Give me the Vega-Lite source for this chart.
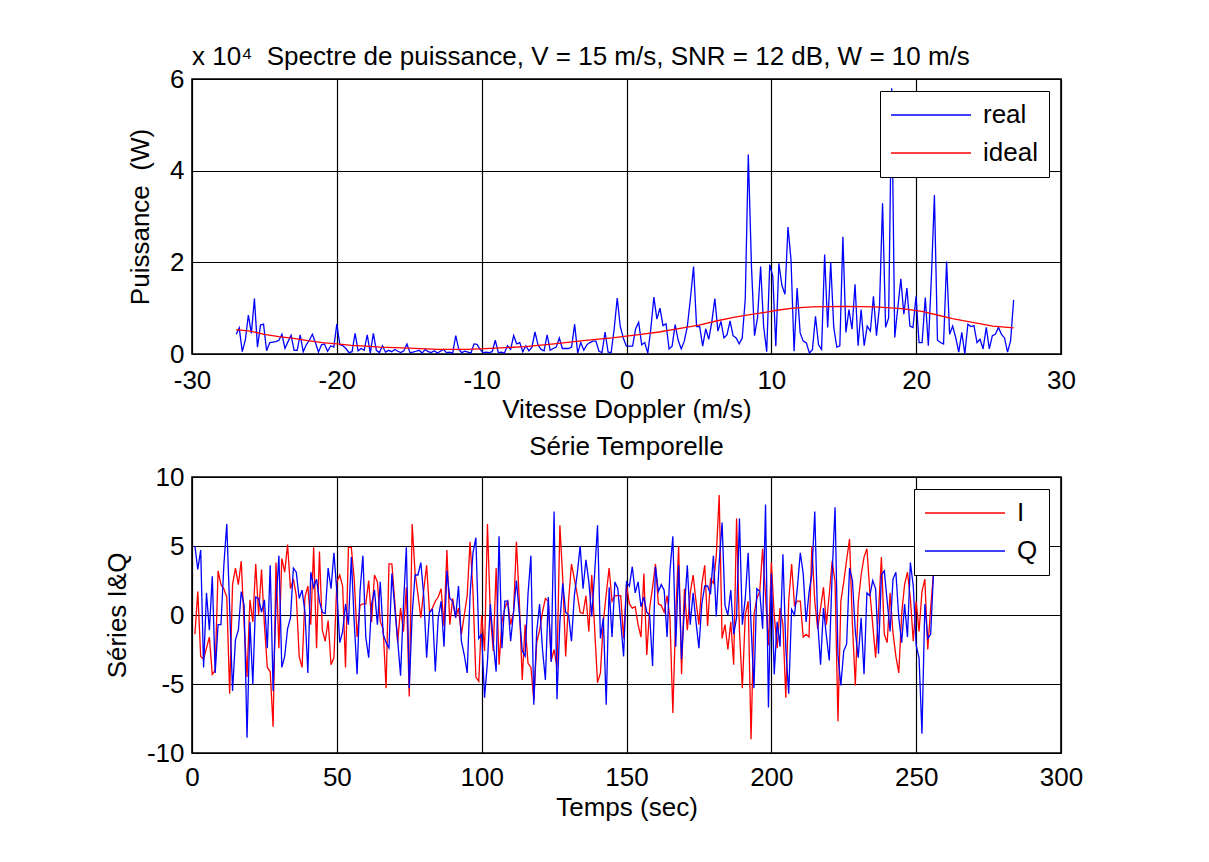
{
"$schema": "https://vega.github.io/schema/vega-lite/v6.json",
"autosize": {"type": "pad"},
"padding": {"left": 103, "top": 43, "right": 10, "bottom": 10},
"background": "white",
"bounds": "flush",
"spacing": 123,
"resolve": {"scale": {"color": "independent"}, "legend": {"color": "independent"}},
"config": {
  "font": "Liberation Sans",
  "view": {"stroke": "#000", "strokeWidth": 1.6},
  "axis": {"labelFont": "Liberation Sans", "labelFontSize": 26, "labelColor": "#000", "titleFont": "Liberation Sans", "titleFontSize": 26, "titleFontWeight": "normal", "titleColor": "#000", "ticks": false, "domain": false, "grid": true, "gridColor": "#000", "gridWidth": 1.2, "gridOpacity": 1, "labelFlush": false},
  "axisX": {"labelPadding": 11, "titlePadding": 4, "labelAngle": 0},
  "axisY": {"labelPadding": 8, "titlePadding": 16},
  "title": {"font": "Liberation Sans", "fontSize": 26, "fontWeight": "normal", "color": "#000"},
  "legend": {"orient": "top-right", "offset": 12, "strokeColor": "#000", "fillColor": "#fff", "padding": 11, "symbolType": "M-4,0H4", "symbolSize": 400, "symbolStrokeWidth": 1.3, "symbolOffset": 27, "labelFont": "Liberation Sans", "labelFontSize": 26, "labelColor": "#000", "labelOffset": 39, "rowPadding": 12}
},
"datasets": {
"reel": [
{"v":-26.95,"p":4300},{"v":-26.74,"p":5700},{"v":-26.53,"p":500},{"v":-26.32,"p":3000},{"v":-26.11,"p":8500},{"v":-25.90,"p":4500},{"v":-25.69,"p":12100},{"v":-25.48,"p":1500},{"v":-25.27,"p":6300},{"v":-25.06,"p":6500},
{"v":-24.85,"p":700},{"v":-24.63,"p":2500},{"v":-24.42,"p":2600},{"v":-24.21,"p":2700},{"v":-24.00,"p":3000},{"v":-23.79,"p":4300},{"v":-23.58,"p":1200},{"v":-23.37,"p":2700},{"v":-23.16,"p":4100},{"v":-22.95,"p":800},
{"v":-22.74,"p":800},{"v":-22.53,"p":4200},{"v":-22.32,"p":500},{"v":-22.11,"p":2000},{"v":-21.90,"p":3000},{"v":-21.69,"p":4300},{"v":-21.48,"p":2500},{"v":-21.27,"p":400},{"v":-21.06,"p":2000},{"v":-20.85,"p":2200},
{"v":-20.64,"p":600},{"v":-20.42,"p":1800},{"v":-20.21,"p":1500},{"v":-20.00,"p":6500},{"v":-19.79,"p":2000},{"v":-19.58,"p":1800},{"v":-19.37,"p":1200},{"v":-19.16,"p":300},{"v":-18.95,"p":500},{"v":-18.74,"p":4500},
{"v":-18.53,"p":700},{"v":-18.32,"p":1200},{"v":-18.11,"p":800},{"v":-17.90,"p":4200},{"v":-17.69,"p":200},{"v":-17.48,"p":4500},{"v":-17.27,"p":800},{"v":-17.06,"p":300},{"v":-16.85,"p":1800},{"v":-16.64,"p":400},
{"v":-16.43,"p":800},{"v":-16.21,"p":500},{"v":-16.00,"p":1000},{"v":-15.79,"p":600},{"v":-15.58,"p":300},{"v":-15.37,"p":700},{"v":-15.16,"p":2200},{"v":-14.95,"p":300},{"v":-14.74,"p":400},{"v":-14.53,"p":600},
{"v":-14.32,"p":800},{"v":-14.11,"p":200},{"v":-13.90,"p":1000},{"v":-13.69,"p":500},{"v":-13.48,"p":300},{"v":-13.27,"p":700},{"v":-13.06,"p":200},{"v":-12.85,"p":600},{"v":-12.64,"p":1000},{"v":-12.43,"p":300},
{"v":-12.22,"p":400},{"v":-12.00,"p":200},{"v":-11.79,"p":4000},{"v":-11.58,"p":1000},{"v":-11.37,"p":300},{"v":-11.16,"p":600},{"v":-10.95,"p":400},{"v":-10.74,"p":200},{"v":-10.53,"p":2200},{"v":-10.32,"p":2100},
{"v":-10.11,"p":1000},{"v":-9.90,"p":300},{"v":-9.69,"p":400},{"v":-9.48,"p":300},{"v":-9.27,"p":500},{"v":-9.06,"p":3000},{"v":-8.85,"p":300},{"v":-8.64,"p":400},{"v":-8.43,"p":200},{"v":-8.22,"p":1800},
{"v":-8.00,"p":1000},{"v":-7.79,"p":4000},{"v":-7.58,"p":2200},{"v":-7.37,"p":2500},{"v":-7.16,"p":500},{"v":-6.95,"p":1800},{"v":-6.74,"p":700},{"v":-6.53,"p":1500},{"v":-6.32,"p":4800},{"v":-6.11,"p":2000},
{"v":-5.90,"p":1000},{"v":-5.69,"p":700},{"v":-5.48,"p":4200},{"v":-5.27,"p":800},{"v":-5.06,"p":1200},{"v":-4.85,"p":1500},{"v":-4.64,"p":3500},{"v":-4.43,"p":1200},{"v":-4.22,"p":1200},{"v":-4.01,"p":1200},
{"v":-3.79,"p":1500},{"v":-3.58,"p":6500},{"v":-3.37,"p":200},{"v":-3.16,"p":2500},{"v":-2.95,"p":800},{"v":-2.74,"p":2000},{"v":-2.53,"p":2500},{"v":-2.32,"p":2800},{"v":-2.11,"p":2800},{"v":-1.90,"p":600},
{"v":-1.69,"p":300},{"v":-1.48,"p":4800},{"v":-1.27,"p":400},{"v":-1.06,"p":300},{"v":-0.85,"p":5500},{"v":-0.64,"p":12200},{"v":-0.43,"p":6000},{"v":-0.22,"p":3500},{"v":-0.01,"p":1700},{"v":0.20,"p":1700},
{"v":0.42,"p":1700},{"v":0.63,"p":5500},{"v":0.84,"p":6900},{"v":1.05,"p":2000},{"v":1.26,"p":2500},{"v":1.47,"p":200},{"v":1.68,"p":5500},{"v":1.89,"p":12400},{"v":2.10,"p":7600},{"v":2.31,"p":10000},
{"v":2.52,"p":6200},{"v":2.73,"p":6600},{"v":2.94,"p":1100},{"v":3.15,"p":1700},{"v":3.36,"p":6400},{"v":3.57,"p":3000},{"v":3.78,"p":1100},{"v":3.99,"p":2800},{"v":4.20,"p":6000},{"v":4.41,"p":12000},
{"v":4.63,"p":19100},{"v":4.84,"p":6000},{"v":5.05,"p":6000},{"v":5.26,"p":1700},{"v":5.47,"p":5500},{"v":5.68,"p":3200},{"v":5.89,"p":7000},{"v":6.10,"p":12100},{"v":6.31,"p":5000},{"v":6.52,"p":7100},
{"v":6.73,"p":3500},{"v":6.94,"p":4200},{"v":7.15,"p":7200},{"v":7.36,"p":4000},{"v":7.57,"p":3500},{"v":7.78,"p":2200},{"v":7.99,"p":3500},{"v":8.20,"p":12000},{"v":8.41,"p":43500},{"v":8.63,"p":19000},
{"v":8.84,"p":4000},{"v":9.05,"p":8000},{"v":9.26,"p":19100},{"v":9.47,"p":6000},{"v":9.68,"p":500},{"v":9.89,"p":19500},{"v":10.10,"p":17000},{"v":10.31,"p":1700},{"v":10.52,"p":19800},{"v":10.73,"p":15000},
{"v":10.94,"p":13000},{"v":11.15,"p":27700},{"v":11.36,"p":20500},{"v":11.57,"p":600},{"v":11.78,"p":14400},{"v":11.99,"p":4600},{"v":12.20,"p":2800},{"v":12.42,"p":2400},{"v":12.63,"p":200},{"v":12.84,"p":1000},
{"v":13.05,"p":8200},{"v":13.26,"p":2000},{"v":13.47,"p":1000},{"v":13.68,"p":21700},{"v":13.89,"p":5800},{"v":14.10,"p":20000},{"v":14.31,"p":5800},{"v":14.52,"p":1500},{"v":14.73,"p":1800},{"v":14.94,"p":25600},
{"v":15.15,"p":4700},{"v":15.36,"p":9700},{"v":15.57,"p":5400},{"v":15.78,"p":15200},{"v":15.99,"p":1800},{"v":16.20,"p":9700},{"v":16.41,"p":1800},{"v":16.62,"p":6100},{"v":16.84,"p":5000},{"v":17.05,"p":12600},
{"v":17.26,"p":4000},{"v":17.47,"p":10500},{"v":17.68,"p":32900},{"v":17.89,"p":5800},{"v":18.10,"p":7900},{"v":18.31,"p":58000},{"v":18.52,"p":3600},{"v":18.73,"p":10000},{"v":18.94,"p":16400},{"v":19.15,"p":8700},
{"v":19.36,"p":14400},{"v":19.57,"p":6100},{"v":19.78,"p":5800},{"v":19.99,"p":12600},{"v":20.20,"p":2500},{"v":20.41,"p":2500},{"v":20.63,"p":12300},{"v":20.84,"p":1800},{"v":21.05,"p":16600},{"v":21.26,"p":34700},
{"v":21.47,"p":3000},{"v":21.68,"p":2500},{"v":21.89,"p":2200},{"v":22.10,"p":20200},{"v":22.31,"p":4300},{"v":22.52,"p":6100},{"v":22.73,"p":3600},{"v":22.94,"p":400},{"v":23.15,"p":4700},{"v":23.36,"p":0},
{"v":23.57,"p":6500},{"v":23.78,"p":6000},{"v":23.99,"p":6200},{"v":24.20,"p":2500},{"v":24.41,"p":3200},{"v":24.62,"p":1100},{"v":24.84,"p":5800},{"v":25.05,"p":1100},{"v":25.26,"p":4000},{"v":25.47,"p":4300},
{"v":25.68,"p":5800},{"v":25.89,"p":4300},{"v":26.10,"p":3500},{"v":26.31,"p":400},{"v":26.52,"p":2900},{"v":26.73,"p":11800}
],
"ideal": [
{"v":-26.95,"p":5300},{"v":-26.0,"p":5000},{"v":-25.0,"p":4300},{"v":-24.0,"p":3800},{"v":-23.0,"p":3400},{"v":-22.0,"p":2900},{"v":-21.0,"p":2500},{"v":-20.0,"p":2200},{"v":-19.0,"p":1900},{"v":-18.0,"p":1700},
{"v":-17.0,"p":1500},{"v":-15.0,"p":1300},{"v":-13.0,"p":1000},{"v":-11.0,"p":1000},{"v":-9.0,"p":1300},{"v":-7.0,"p":1600},{"v":-5.0,"p":2200},{"v":-3.0,"p":2900},{"v":-1.0,"p":3500},{"v":0.0,"p":3900},
{"v":1.0,"p":4300},{"v":2.25,"p":4800},{"v":3.5,"p":5500},{"v":5.0,"p":6300},{"v":6.2,"p":7200},{"v":7.4,"p":8000},{"v":8.3,"p":8500},{"v":9.2,"p":8900},{"v":10.5,"p":9600},{"v":11.5,"p":10000},
{"v":12.8,"p":10300},{"v":15.0,"p":10400},{"v":17.2,"p":10300},{"v":19.0,"p":9900},{"v":20.4,"p":9300},{"v":21.6,"p":8400},{"v":22.5,"p":7700},{"v":23.9,"p":6900},{"v":25.3,"p":6100},{"v":26.73,"p":5700}
],
"serie": [
{"t":1,"I":-1.4,"Q":5.0},{"t":2,"I":1.7,"Q":3.3},{"t":3,"I":-3.0,"Q":4.7},{"t":4,"I":-3.2,"Q":-3.8},{"t":5,"I":-2.4,"Q":1.6},{"t":6,"I":-1.6,"Q":-1.1},{"t":7,"I":-4.3,"Q":2.8},{"t":8,"I":-4.0,"Q":-4.2},{"t":9,"I":3.2,"Q":-0.7},{"t":10,"I":2.2,"Q":-0.7},
{"t":11,"I":1.9,"Q":3.6},{"t":12,"I":1.3,"Q":6.6},{"t":13,"I":-5.7,"Q":0.5},{"t":14,"I":2.2,"Q":-5.5},{"t":15,"I":3.4,"Q":-1.8},{"t":16,"I":2.2,"Q":-1.1},{"t":17,"I":3.9,"Q":1.7},{"t":18,"I":-0.7,"Q":0.7},{"t":19,"I":-4.5,"Q":-8.9},{"t":20,"I":1.1,"Q":-0.5},
{"t":21,"I":-0.5,"Q":-5.0},{"t":22,"I":3.7,"Q":1.3},{"t":23,"I":0.0,"Q":1.2},{"t":24,"I":3.3,"Q":0.2},{"t":25,"I":-0.7,"Q":1.1},{"t":26,"I":-3.8,"Q":-2.4},{"t":27,"I":-4.1,"Q":3.6},{"t":28,"I":-8.1,"Q":-5.5},{"t":29,"I":3.8,"Q":0.8},{"t":30,"I":-2.4,"Q":4.3},
{"t":31,"I":4.1,"Q":-3.8},{"t":32,"I":3.1,"Q":-3.0},{"t":33,"I":5.1,"Q":-1.0},{"t":34,"I":1.9,"Q":-0.2},{"t":35,"I":2.6,"Q":3.4},{"t":36,"I":1.4,"Q":3.1},{"t":37,"I":-3.0,"Q":1.2},{"t":38,"I":-3.8,"Q":1.8},{"t":39,"I":1.3,"Q":0.2},{"t":40,"I":2.1,"Q":-4.2},
{"t":41,"I":-0.7,"Q":3.1},{"t":42,"I":4.9,"Q":2.0},{"t":43,"I":-2.4,"Q":2.6},{"t":44,"I":4.6,"Q":1.0},{"t":45,"I":-1.1,"Q":0.2},{"t":46,"I":-1.9,"Q":0.1},{"t":47,"I":-0.4,"Q":3.4},{"t":48,"I":-3.6,"Q":1.9},{"t":49,"I":-3.1,"Q":4.5},{"t":50,"I":2.4,"Q":1.7},
{"t":51,"I":2.9,"Q":-2.0},{"t":52,"I":2.1,"Q":-1.2},{"t":53,"I":-3.8,"Q":0.8},{"t":54,"I":4.9,"Q":-0.7},{"t":55,"I":4.9,"Q":4.2},{"t":56,"I":2.6,"Q":-0.5},{"t":57,"I":-1.6,"Q":-4.3},{"t":58,"I":0.7,"Q":1.7},{"t":59,"I":0.8,"Q":4.3},{"t":60,"I":0.8,"Q":-1.6},
{"t":61,"I":2.5,"Q":-3.1},{"t":62,"I":-0.5,"Q":0.8},{"t":63,"I":2.9,"Q":1.8},{"t":64,"I":2.4,"Q":-0.7},{"t":65,"I":-0.5,"Q":2.4},{"t":66,"I":-1.0,"Q":-1.4},{"t":67,"I":-5.3,"Q":-2.0},{"t":68,"I":3.7,"Q":-2.4},{"t":69,"I":3.7,"Q":3.0},{"t":70,"I":1.0,"Q":0.5},
{"t":71,"I":-2.0,"Q":-1.8},{"t":72,"I":0.5,"Q":-4.4},{"t":73,"I":-1.2,"Q":0.7},{"t":74,"I":2.0,"Q":4.9},{"t":75,"I":-5.9,"Q":-5.3},{"t":76,"I":6.6,"Q":0.0},{"t":77,"I":3.1,"Q":2.9},{"t":78,"I":1.5,"Q":2.9},{"t":79,"I":-0.2,"Q":3.8},{"t":80,"I":1.8,"Q":1.4},
{"t":81,"I":3.6,"Q":-3.1},{"t":82,"I":0.2,"Q":0.2},{"t":83,"I":0.5,"Q":0.4},{"t":84,"I":1.0,"Q":-4.1},{"t":85,"I":1.3,"Q":-0.2},{"t":86,"I":1.9,"Q":1.0},{"t":87,"I":-0.8,"Q":-2.3},{"t":88,"I":4.7,"Q":3.2},{"t":89,"I":-0.7,"Q":1.2},{"t":90,"I":1.2,"Q":1.0},
{"t":91,"I":-0.2,"Q":-0.2},{"t":92,"I":0.5,"Q":2.1},{"t":93,"I":-1.4,"Q":-1.9},{"t":94,"I":0.0,"Q":-2.9},{"t":95,"I":1.4,"Q":-4.2},{"t":96,"I":5.3,"Q":1.5},{"t":97,"I":1.7,"Q":4.5},{"t":98,"I":-4.5,"Q":5.6},{"t":99,"I":-4.8,"Q":-1.7},{"t":100,"I":0.0,"Q":-1.4},
{"t":101,"I":-2.6,"Q":-6.0},{"t":102,"I":6.6,"Q":-3.4},{"t":103,"I":0.0,"Q":0.8},{"t":104,"I":-2.6,"Q":-2.0},{"t":105,"I":3.4,"Q":-4.1},{"t":106,"I":-3.6,"Q":5.7},{"t":107,"I":-0.5,"Q":-2.4},{"t":108,"I":0.5,"Q":1.0},{"t":109,"I":1.0,"Q":1.0},{"t":110,"I":-0.7,"Q":-1.9},
{"t":111,"I":0.2,"Q":0.2},{"t":112,"I":5.3,"Q":2.5},{"t":113,"I":1.0,"Q":0.1},{"t":114,"I":-4.7,"Q":-2.6},{"t":115,"I":-0.7,"Q":-3.0},{"t":116,"I":-3.5,"Q":1.5},{"t":117,"I":-3.8,"Q":4.3},{"t":118,"I":-6.2,"Q":-6.5},{"t":119,"I":-2.0,"Q":-1.2},{"t":120,"I":-1.1,"Q":0.8},
{"t":121,"I":0.2,"Q":-2.5},{"t":122,"I":1.2,"Q":-4.7},{"t":123,"I":1.0,"Q":1.3},{"t":124,"I":-3.3,"Q":-3.4},{"t":125,"I":-2.5,"Q":7.5},{"t":126,"I":-3.8,"Q":-6.1},{"t":127,"I":6.5,"Q":-0.5},{"t":128,"I":2.6,"Q":2.3},{"t":129,"I":-3.0,"Q":0.2},{"t":130,"I":1.0,"Q":0.0},
{"t":131,"I":3.7,"Q":-1.9},{"t":132,"I":2.6,"Q":1.4},{"t":133,"I":1.5,"Q":3.0},{"t":134,"I":0.2,"Q":5.0},{"t":135,"I":0.1,"Q":1.9},{"t":136,"I":1.4,"Q":4.0},{"t":137,"I":-1.2,"Q":2.4},{"t":138,"I":2.9,"Q":-0.1},{"t":139,"I":-1.0,"Q":3.0},{"t":140,"I":-4.9,"Q":6.5},
{"t":141,"I":-4.2,"Q":-1.7},{"t":142,"I":-0.5,"Q":-0.2},{"t":143,"I":1.5,"Q":-6.5},{"t":144,"I":3.4,"Q":2.0},{"t":145,"I":1.0,"Q":-1.6},{"t":146,"I":1.4,"Q":2.4},{"t":147,"I":1.4,"Q":1.9},{"t":148,"I":1.4,"Q":-0.5},{"t":149,"I":-1.7,"Q":-3.0},{"t":150,"I":2.2,"Q":2.4},
{"t":151,"I":0.8,"Q":2.1},{"t":152,"I":0.5,"Q":3.5},{"t":153,"I":0.6,"Q":1.6},{"t":154,"I":-0.7,"Q":2.4},{"t":155,"I":-1.6,"Q":0.6},{"t":156,"I":3.0,"Q":1.3},{"t":157,"I":-2.9,"Q":0.2},{"t":158,"I":0.5,"Q":0.0},{"t":159,"I":2.0,"Q":-3.7},{"t":160,"I":3.7,"Q":3.5},
{"t":161,"I":0.8,"Q":1.7},{"t":162,"I":0.7,"Q":2.2},{"t":163,"I":0.2,"Q":1.8},{"t":164,"I":1.4,"Q":-1.6},{"t":165,"I":-0.2,"Q":3.2},{"t":166,"I":-7.1,"Q":5.7},{"t":167,"I":0.0,"Q":-2.3},{"t":168,"I":5.0,"Q":3.6},{"t":169,"I":-4.3,"Q":-3.2},{"t":170,"I":1.9,"Q":0.5},
{"t":171,"I":-1.1,"Q":3.6},{"t":172,"I":1.6,"Q":-0.7},{"t":173,"I":2.9,"Q":1.6},{"t":174,"I":1.0,"Q":-0.5},{"t":175,"I":-0.7,"Q":-2.4},{"t":176,"I":2.2,"Q":0.8},{"t":177,"I":3.6,"Q":2.1},{"t":178,"I":-0.8,"Q":2.1},{"t":179,"I":2.6,"Q":1.5},{"t":180,"I":2.3,"Q":4.3},
{"t":181,"I":4.3,"Q":-0.1},{"t":182,"I":8.7,"Q":3.8},{"t":183,"I":-1.7,"Q":6.7},{"t":184,"I":-0.7,"Q":0.7},{"t":185,"I":-2.5,"Q":0.0},{"t":186,"I":-0.5,"Q":1.8},{"t":187,"I":-3.6,"Q":-1.4},{"t":188,"I":7.0,"Q":-0.2},{"t":189,"I":-1.2,"Q":7.0},{"t":190,"I":-5.3,"Q":-0.7},
{"t":191,"I":0.0,"Q":1.2},{"t":192,"I":1.0,"Q":4.5},{"t":193,"I":-9.0,"Q":-0.7},{"t":194,"I":0.0,"Q":-5.3},{"t":195,"I":1.2,"Q":1.9},{"t":196,"I":1.7,"Q":1.7},{"t":197,"I":4.8,"Q":-1.0},{"t":198,"I":1.4,"Q":8.0},{"t":199,"I":-2.2,"Q":-6.7},{"t":200,"I":3.8,"Q":3.0},
{"t":201,"I":0.0,"Q":-4.3},{"t":202,"I":-2.4,"Q":-0.5},{"t":203,"I":0.5,"Q":-2.3},{"t":204,"I":-0.7,"Q":4.4},{"t":205,"I":-6.0,"Q":-2.4},{"t":206,"I":1.0,"Q":-5.7},{"t":207,"I":3.7,"Q":0.4},{"t":208,"I":0.7,"Q":0.0},{"t":209,"I":1.0,"Q":2.0},{"t":210,"I":1.0,"Q":4.5},
{"t":211,"I":-1.6,"Q":3.0},{"t":212,"I":-1.4,"Q":-0.5},{"t":213,"I":-1.6,"Q":1.6},{"t":214,"I":5.0,"Q":3.0},{"t":215,"I":1.0,"Q":7.5},{"t":216,"I":-1.0,"Q":-0.5},{"t":217,"I":0.5,"Q":-3.6},{"t":218,"I":2.0,"Q":0.5},{"t":219,"I":-0.7,"Q":-1.5},{"t":220,"I":1.5,"Q":-3.3},
{"t":221,"I":3.9,"Q":3.0},{"t":222,"I":2.4,"Q":7.8},{"t":223,"I":-7.7,"Q":-2.9},{"t":224,"I":1.0,"Q":-5.1},{"t":225,"I":2.4,"Q":-2.6},{"t":226,"I":4.0,"Q":-2.1},{"t":227,"I":5.5,"Q":3.4},{"t":228,"I":-0.7,"Q":2.5},{"t":229,"I":-5.1,"Q":-1.2},{"t":230,"I":0.9,"Q":-3.1},
{"t":231,"I":2.9,"Q":-0.2},{"t":232,"I":4.2,"Q":-4.3},{"t":233,"I":4.8,"Q":1.6},{"t":234,"I":1.7,"Q":1.4},{"t":235,"I":-0.7,"Q":2.5},{"t":236,"I":-3.1,"Q":1.9},{"t":237,"I":0.2,"Q":-2.8},{"t":238,"I":4.2,"Q":2.9},{"t":239,"I":-1.4,"Q":3.2},{"t":240,"I":-2.0,"Q":1.0},
{"t":241,"I":1.6,"Q":-1.2},{"t":242,"I":-1.3,"Q":2.6},{"t":243,"I":-3.0,"Q":3.1},{"t":244,"I":-4.2,"Q":-0.2},{"t":245,"I":0.1,"Q":-2.0},{"t":246,"I":2.2,"Q":0.8},{"t":247,"I":3.1,"Q":-1.6},{"t":248,"I":1.2,"Q":3.8},{"t":249,"I":-1.9,"Q":2.1},{"t":250,"I":1.0,"Q":-2.2},
{"t":251,"I":-1.2,"Q":-3.1},{"t":252,"I":1.7,"Q":-8.6},{"t":253,"I":2.6,"Q":0.8},{"t":254,"I":-2.5,"Q":-1.7},{"t":255,"I":0.5,"Q":-1.4},{"t":256,"I":3.1,"Q":3.1}
]
},
"vconcat": [
{
  "width": 869, "height": 275,
  "title": {"text": "x 10⁴\u00a0 Spectre de puissance, V = 15 m/s, SNR = 12 dB, W = 10 m/s", "anchor": "start", "frame": "group", "offset": -4},
  "layer": [
    {
      "data": {"name": "reel"},
      "mark": {"type": "line", "strokeWidth": 1.3},
      "encoding": {
        "x": {"field": "v", "type": "quantitative", "scale": {"domain": [-30, 30], "nice": false}, "axis": {"values": [-30, -20, -10, 0, 10, 20, 30], "title": "Vitesse Doppler (m/s)", "labelExpr": "'' + datum.value", "labelPadding": 13, "titlePadding": 3}},
        "y": {"field": "p", "type": "quantitative", "scale": {"domain": [0, 60000], "nice": false}, "axis": {"values": [0, 20000, 40000, 60000], "title": "Puissance\u00a0 (W)", "labelExpr": "'' + datum.value / 10000"}},
        "color": {"datum": "real", "type": "nominal", "scale": {"domain": ["real", "ideal"], "range": ["#0000ff", "#ff0000"]}, "legend": {"title": null}}
      }
    },
    {
      "data": {"name": "ideal"},
      "mark": {"type": "line", "strokeWidth": 1.3},
      "encoding": {
        "x": {"field": "v", "type": "quantitative"},
        "y": {"field": "p", "type": "quantitative"},
        "color": {"datum": "ideal", "type": "nominal"}
      }
    }
  ]
},
{
  "width": 869, "height": 276,
  "title": {"text": "Série Temporelle", "offset": 4},
  "data": {"name": "serie"},
  "transform": [{"fold": ["I", "Q"], "as": ["serie", "val"]}],
  "mark": {"type": "line", "strokeWidth": 1.3},
  "encoding": {
    "x": {"field": "t", "type": "quantitative", "scale": {"domain": [0, 300], "nice": false}, "axis": {"values": [0, 50, 100, 150, 200, 250, 300], "title": "Temps (sec)"}},
    "y": {"field": "val", "type": "quantitative", "scale": {"domain": [-10, 10], "nice": false}, "axis": {"values": [-10, -5, 0, 5, 10], "title": "Séries I&Q", "labelExpr": "'' + datum.value"}},
    "color": {"field": "serie", "type": "nominal", "scale": {"domain": ["I", "Q"], "range": ["#ff0000", "#0000ff"]}, "legend": {"title": null}}
  }
}
]
}
